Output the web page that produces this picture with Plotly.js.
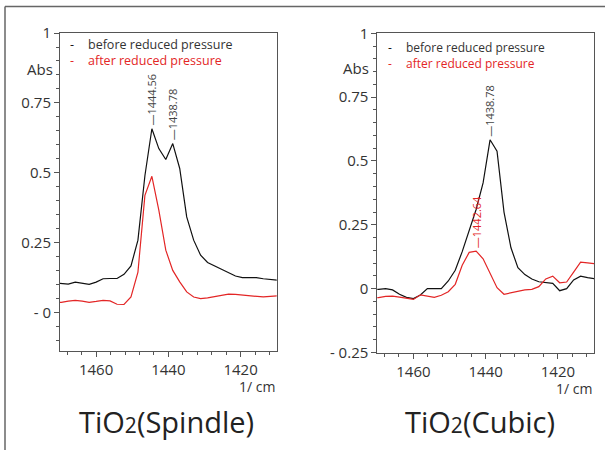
<!DOCTYPE html>
<html>
<head>
<meta charset="utf-8">
<script src="https://cdn.plot.ly/plotly-3.0.1.min.js"></script>
<style>html,body{margin:0;padding:0;background:#fff;}#chart{width:605px;height:450px;}</style>
</head>
<body>
<div id="chart"></div>
<script>
// Wavenumbers (1/cm)
var wavenumbers = [1471.57,1469.64,1467.71,1465.78,1463.85,1461.92,1459.99,1458.07,1456.14,1454.21,1452.28,1450.35,1448.42,1446.49,1444.56,1442.64,1440.71,1438.78,1436.85,1434.92,1432.99,1431.07,1429.14,1427.21,1425.28,1423.35,1421.42,1419.50,1417.57,1415.64,1413.71,1411.78,1409.85];

// TiO2 (Spindle)
var spindleBefore = [0.107,0.106,0.103,0.110,0.107,0.102,0.110,0.122,0.123,0.123,0.138,0.168,0.260,0.490,0.658,0.587,0.548,0.605,0.516,0.343,0.260,0.206,0.180,0.168,0.158,0.145,0.132,0.126,0.126,0.126,0.122,0.119,0.117];
var spindleAfter  = [0.037,0.038,0.042,0.045,0.042,0.038,0.041,0.045,0.043,0.031,0.030,0.057,0.146,0.420,0.488,0.367,0.224,0.152,0.111,0.075,0.057,0.051,0.054,0.058,0.062,0.067,0.066,0.064,0.063,0.060,0.057,0.059,0.061];

// TiO2 (Cubic)
var cubicBefore = [-0.003,-0.003,0.000,-0.005,-0.022,-0.034,-0.039,-0.025,0.000,0.000,0.000,0.030,0.072,0.145,0.225,0.310,0.414,0.583,0.538,0.300,0.160,0.082,0.055,0.038,0.027,0.024,0.021,-0.008,0.000,0.034,0.049,0.043,0.039];
var cubicAfter  = [-0.036,-0.035,-0.030,-0.029,-0.033,-0.038,-0.042,-0.024,-0.028,-0.034,-0.026,-0.012,0.017,0.092,0.142,0.147,0.117,0.060,0.004,-0.022,-0.016,-0.012,-0.005,-0.003,0.008,0.038,0.049,0.023,0.026,0.065,0.104,0.101,0.098];

// Tick labels
var spindleTickVals = [0, 0.25, 0.5, 0.75, 1];
var spindleTickText = ['- 0', '0.25', '0.5', '0.75', '1'];
var cubicTickVals = [-0.25, 0, 0.25, 0.5, 0.75, 1];
var cubicTickText = ['- 0.25', '0', '0.25', '0.5', '0.75', '1'];

// Peak labels
var spindlePeaks = [1444.56, 1438.78];
var cubicPeaksBefore = [1438.78];
var cubicPeaksAfter = [1442.64];

var legendNames = ['before reduced pressure', 'after reduced pressure'];
var titles = ['TiO<span style="font-size:21px">2</span>(Spindle)', 'TiO<span style="font-size:21px">2</span>(Cubic)'];

var BLACK = '#111111', RED = '#e32626', TXT = '#333333', AX = '#555555';
var FONT = 'Open Sans, Noto Sans, sans-serif';

function valAt(xs, ys, x) { return ys[xs.indexOf(x)]; }

var traces = [
  {x: wavenumbers, y: spindleBefore, xaxis: 'x', yaxis: 'y', mode: 'lines', line: {color: BLACK, width: 1.2}},
  {x: wavenumbers, y: spindleAfter,  xaxis: 'x', yaxis: 'y', mode: 'lines', line: {color: RED, width: 1.2}},
  {x: wavenumbers, y: cubicBefore, xaxis: 'x2', yaxis: 'y2', mode: 'lines', line: {color: BLACK, width: 1.2}},
  {x: wavenumbers, y: cubicAfter,  xaxis: 'x2', yaxis: 'y2', mode: 'lines', line: {color: RED, width: 1.2}}
];

function xax(domain) {
  return {
    domain: domain, range: [1470, 1410], autorange: false,
    showgrid: false, zeroline: false, showline: true, linecolor: AX, linewidth: 1, mirror: true,
    ticks: 'outside', ticklen: 5, tickcolor: AX, tickwidth: 1,
    tick0: 1420, dtick: 20, tickmode: 'linear',
    tickfont: {family: FONT, size: 15, color: TXT},
    minor: {tick0: 1420, dtick: 4, ticks: 'outside', ticklen: 3, tickcolor: AX, showgrid: false},
    automargin: false, fixedrange: true
  };
}
function yax(domain, range, tv, tt) {
  return {
    domain: domain, range: range, autorange: false,
    showgrid: false, zeroline: false, showline: true, linecolor: AX, linewidth: 1, mirror: true,
    ticks: 'outside', ticklen: 5, tickcolor: AX, tickwidth: 1,
    tickmode: 'array', tickvals: tv, ticktext: tt,
    tickfont: {family: FONT, size: 15, color: TXT},
    minor: {tick0: 0, dtick: 0.05, ticks: 'outside', ticklen: 3, tickcolor: AX, showgrid: false},
    automargin: false, fixedrange: true
  };
}

var W = 605, H = 450;
function px(x) { return x / W; }
function py(y) { return 1 - y / H; }

var annotations = [];
function peakLabel(xa, ya, x, ys, color) {
  annotations.push({
    xref: xa, yref: ya, x: x, y: valAt(wavenumbers, ys, x),
    text: '\u2014' + x.toFixed(2), textangle: -90, showarrow: false,
    xanchor: 'center', yanchor: 'bottom', yshift: 1,
    font: {family: FONT, size: 11, color: color}
  });
}
spindlePeaks.forEach(function (p) { peakLabel('x', 'y', p, spindleBefore, '#444444'); });
cubicPeaksBefore.forEach(function (p) { peakLabel('x2', 'y2', p, cubicBefore, '#444444'); });
cubicPeaksAfter.forEach(function (p) { peakLabel('x2', 'y2', p, cubicAfter, RED); });

function paperText(x, y, text, size, color, xanchor, yanchor) {
  annotations.push({xref: 'paper', yref: 'paper', x: px(x), y: py(y), text: text, showarrow: false,
    xanchor: xanchor || 'left', yanchor: yanchor || 'middle', align: 'left',
    font: {family: FONT, size: size, color: color}});
}
// legends (two-line blocks)
var dashes = '<span style="color:' + BLACK + '">-</span><br><span style="color:' + RED + '">-</span>';
var names = '<span style="color:' + TXT + '">' + legendNames[0] + '</span><br><span style="color:' + RED + '">' + legendNames[1] + '</span>';
paperText(68, 52.5, dashes, 12.5, TXT, 'left');
paperText(86, 52.5, names, 12.5, TXT, 'left');
paperText(386, 55.5, dashes, 12, TXT, 'left');
paperText(404, 55.5, names, 12, TXT, 'left');
// Abs labels
paperText(40, 69, 'Abs', 15, TXT, 'center');
paperText(356, 68, 'Abs', 15, TXT, 'center');
// units
paperText(277, 386, '1/ cm', 14, TXT, 'right');
paperText(594, 388, '1/ cm', 14, TXT, 'right');
// titles
paperText(166, 421, titles[0], 29, '#222222', 'center');
paperText(480, 421, titles[1], 29, '#222222', 'center');

var layout = {
  width: W, height: H, margin: {l: 0, r: 0, t: 0, b: 0},
  paper_bgcolor: '#ffffff', plot_bgcolor: '#ffffff', showlegend: false,
  xaxis: xax([px(60), px(276.7)]),
  yaxis: yax([py(350.7), py(33)], [-0.135, 1], spindleTickVals, spindleTickText),
  xaxis2: xax([px(377.3), px(594)]),
  yaxis2: yax([py(352.5), py(33.3)], [-0.25, 1], cubicTickVals, cubicTickText),
  annotations: annotations,
  shapes: [
    {type: 'line', xref: 'paper', yref: 'paper', x0: px(5), x1: px(610), y0: py(6.5), y1: py(6.5), line: {color: '#666666', width: 1.5}},
    {type: 'line', xref: 'paper', yref: 'paper', x0: px(5), x1: px(5), y0: py(6.5), y1: py(460), line: {color: '#666666', width: 1.5}}
  ]
};
layout.xaxis2.anchor = 'y2';
layout.yaxis2.anchor = 'x2';
layout.xaxis.anchor = 'y';
layout.yaxis.anchor = 'x';

Plotly.newPlot('chart', traces, layout, {staticPlot: true, displayModeBar: false});
</script>
</body>
</html>
